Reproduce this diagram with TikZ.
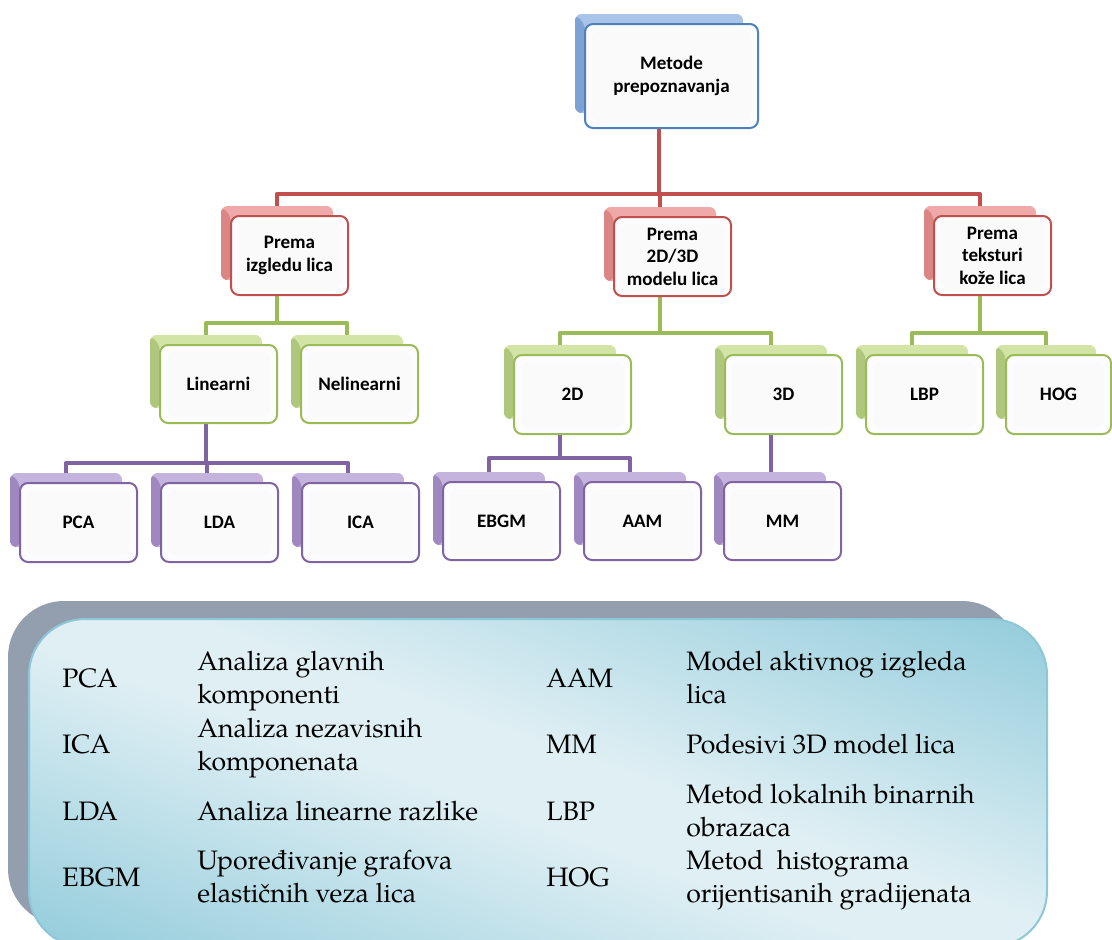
\documentclass[tikz,border=0pt]{standalone}
\usepackage{fontspec}
\newfontfamily\nodefont{Carlito}
\newfontfamily\legendfont{texgyrepagella}[Extension=.otf, UprightFont=*-regular, BoldFont=*-bold]

% palette
\definecolor{bluAcc}{HTML}{4F81BD}
\definecolor{bluLight}{HTML}{A9C4E8}
\definecolor{bluDark}{HTML}{7EA2D3}
\definecolor{redAcc}{HTML}{C0504D}
\definecolor{redLight}{HTML}{EFA9A8}
\definecolor{redDark}{HTML}{D98685}
\definecolor{grnAcc}{HTML}{9BBB59}
\definecolor{grnLight}{HTML}{D3E4A7}
\definecolor{grnDark}{HTML}{AFC77C}
\definecolor{purAcc}{HTML}{8064A2}
\definecolor{purLight}{HTML}{C3B3DD}
\definecolor{purDark}{HTML}{9F88C0}
\definecolor{frontFill}{HTML}{FCFBFD}
\definecolor{legLight}{HTML}{DFEFF4}
\definecolor{legDark}{HTML}{93CCDB}
\definecolor{legEdge}{HTML}{8DC7D8}
\definecolor{legBack}{HTML}{939FAF}

\pgfdeclarelayer{bg}
\pgfsetlayers{bg,main}

\tikzset{
  backbox/.style={rectangle, rounded corners=5pt, inner sep=0pt, outer sep=0pt,
    fill=#1Light,
    path picture={\fill[#1Dark] (path picture bounding box.north west) -- ++(10,10)
      -- ([xshift=7.5pt]path picture bounding box.south west)
      -- (path picture bounding box.south west) -- cycle;}},
  frontbox/.style={rectangle, rounded corners=6pt, inner sep=0pt, outer sep=0pt,
    draw=#1Acc, line width=1.5pt, fill=frontFill, align=center,
    font=\nodefont\bfseries\fontsize{14.3}{16.8}\selectfont,
    path picture={\fill[black!2] ([shift={(7,7)}]path picture bounding box.north west)
      rectangle ([shift={(-7,-7)}]path picture bounding box.south east);}},
  link/.style={draw=#1Acc, line width=3.5pt, line join=round},
  legtext/.style={anchor=base west, inner sep=0pt, align=left,
    font=\legendfont\fontsize{20}{24.75}\selectfont},
}

% #1 name, #2 colour family, #3/#4 top-left of the back plate, #5/#6 its size, #7 text
\newcommand\tbox[7]{%
  \node[backbox=#2, minimum width={#5*0.75pt}, minimum height={#6*0.75pt}]
    (#1b) at ({#3+#5/2},{#4+#6/2}) {};
  \node[frontbox=#2, minimum width={(#5+5)*0.75pt}, minimum height={(#6+5)*0.75pt}]
    (#1) at ({#3+#5/2+12.5},{#4+#6/2+12.5}) {#7};
}

\begin{document}
\begin{tikzpicture}[x=0.75pt,y=-0.75pt]
\useasboundingbox (0,0) rectangle (1112,939);
\clip (0,0) rectangle (1112,939);

% tree
\tbox{root}{blu}{575}{14}{168}{99}{Metode\\prepoznavanja}
\tbox{izg}{red}{221}{206}{112}{74}{Prema\\izgledu lica}
\tbox{mod}{red}{604}{207}{112}{74}{Prema\\2D/3D\\modelu lica}
\tbox{tek}{red}{924}{206}{112}{74}{Prema\\teksturi\\kože lica}
\tbox{lin}{grn}{150}{335}{112}{73}{Linearni}
\tbox{nel}{grn}{291}{335}{112}{73}{Nelinearni}
\tbox{dva}{grn}{504}{345}{112}{74}{2D}
\tbox{tri}{grn}{715}{345}{112}{74}{3D}
\tbox{lbp}{grn}{856}{345}{112}{74}{LBP}
\tbox{hog}{grn}{996}{345}{100}{74}{HOG}
\tbox{pca}{pur}{10}{473}{112}{74}{PCA}
\tbox{lda}{pur}{151}{473}{112}{74}{LDA}
\tbox{ica}{pur}{292}{473}{112}{74}{ICA}
\tbox{ebgm}{pur}{433}{472}{112}{73}{EBGM}
\tbox{aam}{pur}{574}{472}{112}{73}{AAM}
\tbox{mm}{pur}{714}{472}{112}{73}{MM}

% bus levels
\coordinate (busR) at (0,194);
\coordinate (busG1) at (0,323);
\coordinate (busG2) at (0,333);
\coordinate (busP1) at (0,463);
\coordinate (busP2) at (0,458);

\begin{pgfonlayer}{bg}
  % first level
  \draw[link=red] (rootb.center |- root.south) -- (rootb.center |- busR);
  \draw[link=red] (izgb.north) -- (izgb.north |- busR) -- (tekb.north |- busR) -- (tekb.north);
  \draw[link=red] (modb.north) -- (modb.north |- busR);
  % second level
  \draw[link=grn] (izgb.center |- izg.south) -- (izgb.center |- busG1);
  \draw[link=grn] (linb.north) -- (linb.north |- busG1) -- (nelb.north |- busG1) -- (nelb.north);
  \draw[link=grn] (modb.center |- mod.south) -- (modb.center |- busG2);
  \draw[link=grn] (dvab.north) -- (dvab.north |- busG2) -- (trib.north |- busG2) -- (trib.north);
  \draw[link=grn] (tekb.center |- tek.south) -- (tekb.center |- busG2);
  \draw[link=grn] (lbpb.north) -- (lbpb.north |- busG2) -- (hogb.north |- busG2) -- (hogb.north);
  % third level
  \draw[link=pur] (linb.center |- lin.south) -- (linb.center |- busP1);
  \draw[link=pur] (pcab.north) -- (pcab.north |- busP1) -- (icab.north |- busP1) -- (icab.north);
  \draw[link=pur] (ldab.north) -- (ldab.north |- busP1);
  \draw[link=pur] (dvab.center |- dva.south) -- (dvab.center |- busP2);
  \draw[link=pur] (ebgmb.north) -- (ebgmb.north |- busP2) -- (aamb.north |- busP2) -- (aamb.north);
  \draw[link=pur] (trib.center |- tri.south) -- (trib.center |- mmb.north);
\end{pgfonlayer}

% legend panel: grey plate behind, tinted card in front
\node[rectangle, rounded corners=42pt, fill=legBack, inner sep=0pt,
  minimum width=757.5pt, minimum height=243pt] (legb) at (513,763) {};
\begin{scope}
  \clip[rounded corners=42pt] (29,619) rectangle (1047,947);
  % diagonal tint: dark toward lower-left and upper-right, light band between
  \begin{scope}[transform canvas={rotate around={70.4:(538,783)}}]
    \shade[left color=legDark, right color=legLight] (213,200) rectangle (498,1370);
    \fill[legLight] (497,200) rectangle (579,1370);
    \shade[left color=legLight, right color=legDark] (578,200) rectangle (863,1370);
  \end{scope}
\end{scope}
\node[rectangle, rounded corners=42pt, draw=legEdge, line width=1.5pt, inner sep=0pt,
  minimum width=763.5pt, minimum height=246pt] (leg) at (538,783) {};

\node[legtext] (tPCA) at (62,687) {PCA};
\node[legtext] (dPCA) at (197,703) {Analiza glavnih\\komponenti};
\node[legtext] (tICA) at (62,753) {ICA};
\node[legtext] (dICA) at (197,770) {Analiza nezavisnih\\komponenata};
\node[legtext] (tLDA) at (62,820) {LDA};
\node[legtext] (dLDA) at (197,820) {Analiza linearne razlike};
\node[legtext] (tEBGM) at (62,886) {EBGM};
\node[legtext] (dEBGM) at (197,902) {Upoređivanje grafova\\elastičnih veza lica};
\node[legtext] (tAAM) at (546,687) {AAM};
\node[legtext] (dAAM) at (686,703) {Model aktivnog izgleda\\lica};
\node[legtext] (tMM) at (546,753) {MM};
\node[legtext] (dMM) at (686,753) {Podesivi 3D model lica};
\node[legtext] (tLBP) at (546,820) {LBP};
\node[legtext] (dLBP) at (686,836) {Metod lokalnih binarnih\\obrazaca};
\node[legtext] (tHOG) at (546,886) {HOG};
\node[legtext] (dHOG) at (686,902) {Metod\ \ histograma\\orijentisanih gradijenata};
\end{tikzpicture}
\end{document}
